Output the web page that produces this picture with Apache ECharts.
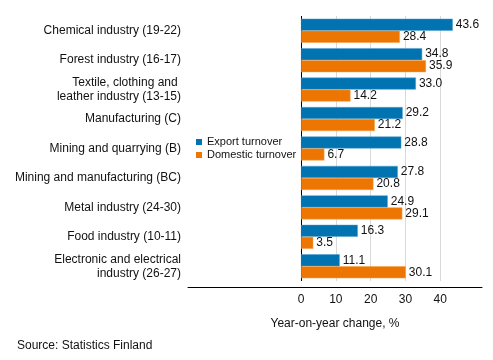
<!DOCTYPE html>
<html>
<head>
<meta charset="utf-8">
<script src="https://cdn.jsdelivr.net/npm/echarts@6/dist/echarts.min.js"></script>
<style>html,body{margin:0;padding:0;background:#fff}#c{width:493px;height:360px}</style>
</head>
<body>
<div id="c"></div>
<script>
const categories = [
  "Chemical industry (19-22)",
  "Forest industry (16-17)",
  "Textile, clothing and \nleather industry (13-15)",
  "Manufacturing (C)",
  "Mining and quarrying (B)",
  "Mining and manufacturing (BC)",
  "Metal industry (24-30)",
  "Food industry (10-11)",
  "Electronic and electrical\nindustry (26-27)"
];
const exportTurnover = [43.6, 34.8, 33.0, 29.2, 28.8, 27.8, 24.9, 16.3, 11.1];
const domesticTurnover = [28.4, 35.9, 14.2, 21.2, 6.7, 20.8, 29.1, 3.5, 30.1];
const xTicks = [0, 10, 20, 30, 40];
const seriesNames = ["Export turnover", "Domestic turnover"];

const FONT = "Liberation Sans, Arial, sans-serif";
const TXT = "#111";
const chart = echarts.init(document.getElementById('c'), null, {renderer: 'canvas'});
const lbl = {
  show: true, position: 'right', distance: 3, color: TXT, fontSize: 12, fontFamily: FONT,
  formatter: p => p.value.toFixed(1)
};
chart.setOption({
  animation: false,
  textStyle: {fontFamily: FONT},
  title: {
    text: "Source: Statistics Finland", left: 12, top: 335,
    textStyle: {fontSize: 12, fontWeight: 'normal', color: TXT, fontFamily: FONT}
  },
  legend: {
    orient: 'vertical', left: 196, top: 136, padding: 0,
    itemWidth: 6, itemHeight: 6, itemGap: 1,
    icon: 'rect',
    itemStyle: {borderWidth: 0},
    textStyle: {fontSize: 11, color: TXT, lineHeight: 12, fontFamily: FONT},
    data: seriesNames
  },
  grid: {left: 188, right: 11, top: 16, bottom: 79, containLabel: false},
  xAxis: {
    type: 'value', min: -32.5, max: 52, offset: 6,
    name: "Year-on-year change, %", nameLocation: 'middle', nameGap: 31,
    nameTextStyle: {fontSize: 12, color: TXT, fontFamily: FONT},
    axisLine: {show: true, onZero: false, lineStyle: {color: '#000', width: 1}},
    axisTick: {show: false, customValues: xTicks},
    axisLabel: {customValues: xTicks, color: TXT, fontSize: 12, margin: 7, fontFamily: FONT},
    splitLine: {show: true, lineStyle: {color: ['#000', '#d9d9d9', '#d9d9d9', '#d9d9d9', '#d9d9d9'], width: 1}}
  },
  yAxis: {
    type: 'category', data: categories, inverse: true,
    axisLine: {show: false}, axisTick: {show: false},
    axisLabel: {color: TXT, fontSize: 12, margin: 7, lineHeight: 14, fontFamily: FONT, align: 'right'}
  },
  series: [
    {
      name: seriesNames[0], type: 'bar', data: exportTurnover, barWidth: 12, barGap: '0%',
      itemStyle: {color: '#0073b0', borderColor: '#4d9fcf', borderWidth: 0.5},
      label: lbl
    },
    {
      name: seriesNames[1], type: 'bar', data: domesticTurnover, barWidth: 12, barGap: '0%',
      itemStyle: {color: '#ed7602', borderColor: '#f5a04d', borderWidth: 0.5},
      label: lbl
    }
  ]
});
</script>
</body>
</html>
